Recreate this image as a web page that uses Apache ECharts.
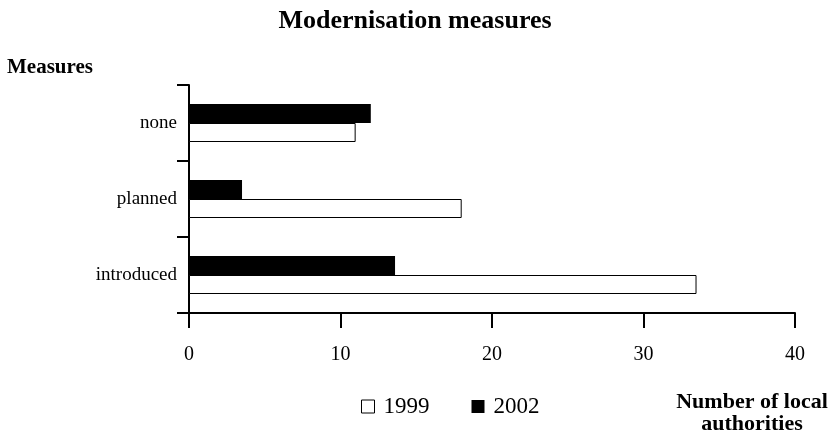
<!DOCTYPE html>
<html>
<head>
<meta charset="utf-8">
<script src="https://cdn.jsdelivr.net/npm/echarts@6/dist/echarts.min.js"></script>
<style>
  html, body { margin: 0; padding: 0; background: #fff; }
  #chart { width: 835px; height: 443px; }
</style>
</head>
<body>
<div id="chart"></div>
<script>
// 数据
const categories = ['introduced', 'planned', 'none'];
const values1999 = [33.5, 18, 11];
const values2002 = [13.6, 3.5, 12];
const xTicks = [0, 10, 20, 30, 40];

const FONT = '"Liberation Serif", "DejaVu Serif", serif';

const chart = echarts.init(document.getElementById('chart'), null, { renderer: 'canvas' });
chart.setOption({
  backgroundColor: '#fff',
  animation: false,
  title: [
    {
      text: 'Modernisation measures',
      left: 410, top: 3, textAlign: 'center',
      textStyle: { fontFamily: FONT, fontWeight: 'bold', fontSize: 26, color: '#000' }
    },
    {
      text: 'Measures',
      left: 2, top: 52,
      textStyle: { fontFamily: FONT, fontWeight: 'bold', fontSize: 21, color: '#000' }
    },
    {
      text: 'Number of local\nauthorities',
      left: 747, top: 386, textAlign: 'center',
      textStyle: { fontFamily: FONT, fontWeight: 'bold', fontSize: 22, lineHeight: 22, color: '#000', align: 'center' }
    }
  ],
  legend: {
    left: 356, top: 390,
    itemWidth: 13, itemHeight: 13, itemGap: 42,
    icon: 'rect',
    textStyle: { fontFamily: FONT, fontSize: 23, color: '#000', padding: [0, 0, 0, 4] },
    data: [
      { name: '1999', itemStyle: { color: '#fff', borderColor: '#000', borderWidth: 1 } },
      { name: '2002', itemStyle: { color: '#000' } }
    ]
  },
  grid: { left: 189, right: 40, top: 85, bottom: 130, containLabel: false },
  xAxis: {
    type: 'value',
    min: xTicks[0], max: xTicks[xTicks.length - 1], interval: 10,
    splitLine: { show: false },
    axisLine: { show: true, lineStyle: { color: '#000', width: 2 } },
    axisTick: { show: true, length: 15, lineStyle: { color: '#000', width: 2 } },
    axisLabel: { margin: 32, fontFamily: FONT, fontSize: 20, color: '#000' }
  },
  yAxis: {
    type: 'category',
    data: categories,
    axisLine: { show: true, lineStyle: { color: '#000', width: 2 } },
    axisTick: { show: true, length: 12, lineStyle: { color: '#000', width: 2 } },
    axisLabel: { margin: 12, fontFamily: FONT, fontSize: 19, color: '#000' }
  },
  // 2002 先画：横向柱状图里第一个系列在上方
  series: [
    {
      name: '2002', type: 'bar', data: values2002,
      barWidth: 19, barGap: '0%',
      itemStyle: { color: '#000' }
    },
    {
      name: '1999', type: 'bar', data: values1999,
      barWidth: 19, barGap: '0%',
      itemStyle: { color: '#fff', borderColor: '#000', borderWidth: 1 }
    }
  ]
});
</script>
</body>
</html>
